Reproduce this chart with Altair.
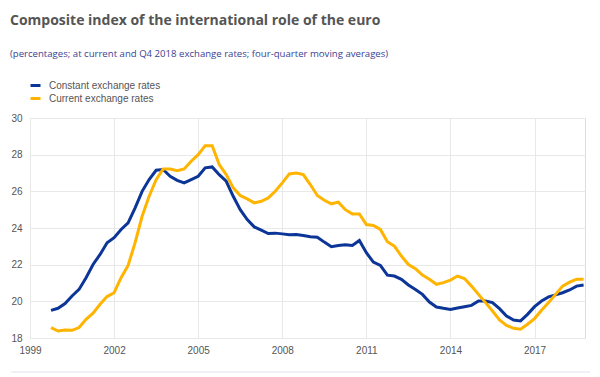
import altair as alt
import pandas as pd

# Quarterly observations, 1999 Q4 to 2018 Q4
quarters = [f"{1999 + (3 + i) // 4}Q{(3 + i) % 4 + 1}" for i in range(77)]

constant_rates = [
    19.51, 19.62, 19.88, 20.29, 20.65, 21.29, 22.01, 22.56, 23.20, 23.47,
    23.92, 24.28, 25.10, 26.00, 26.64, 27.15, 27.19, 26.82, 26.60, 26.46,
    26.64, 26.82, 27.28, 27.33, 26.91, 26.55, 25.73, 25.00, 24.46, 24.06,
    23.88, 23.70, 23.72, 23.68, 23.63, 23.65, 23.59, 23.52, 23.50, 23.23,
    22.98, 23.05, 23.09, 23.05, 23.32, 22.65, 22.14, 21.96, 21.43, 21.38,
    21.20, 20.89, 20.65, 20.38, 19.96, 19.69, 19.62, 19.56, 19.64, 19.71,
    19.78, 20.02, 20.02, 19.93, 19.60, 19.20, 18.98, 18.93, 19.29, 19.71,
    20.02, 20.24, 20.35, 20.47, 20.62, 20.83, 20.89,
]

current_rates = [
    18.57, 18.38, 18.44, 18.42, 18.57, 19.02, 19.35, 19.84, 20.26, 20.47,
    21.29, 21.96, 23.20, 24.64, 25.73, 26.64, 27.22, 27.22, 27.13, 27.22,
    27.64, 28.00, 28.49, 28.49, 27.46, 26.91, 26.19, 25.77, 25.59, 25.37,
    25.46, 25.64, 26.00, 26.46, 26.95, 27.00, 26.91, 26.37, 25.77, 25.51,
    25.32, 25.41, 25.00, 24.77, 24.77, 24.19, 24.14, 23.92, 23.25, 23.01,
    22.47, 22.01, 21.78, 21.43, 21.20, 20.93, 21.02, 21.16, 21.38, 21.24,
    20.83, 20.38, 19.93, 19.47, 18.98, 18.69, 18.53, 18.48, 18.75, 19.06,
    19.51, 19.93, 20.38, 20.83, 21.05, 21.20, 21.20,
]

series_names = ["Constant exchange rates", "Current exchange rates"]
series_colors = ["#0b3596", "#ffb400"]
x_ticks = [1999, 2002, 2005, 2008, 2011, 2014, 2017]
y_ticks = [18, 20, 22, 24, 26, 28, 30]


def q_to_year(q):
    y, n = q.split("Q")
    return int(y) + (int(n) - 1) * 0.25


rows = []
for name, vals in zip(series_names, [constant_rates, current_rates]):
    for q, v in zip(quarters, vals):
        rows.append({"year": q_to_year(q), "value": v, "series": name})
df = pd.DataFrame(rows)

label_font = "Liberation Sans"
grey = "#555555"

lines = alt.Chart(df).mark_line(strokeWidth=3, clip=True).encode(
    x=alt.X(
        "year:Q",
        scale=alt.Scale(domain=[1999, 2018.8], nice=False, zero=False),
        axis=alt.Axis(
            values=x_ticks, format="d", title=None, grid=True, gridColor="#e8e8e8",
            domain=False, ticks=False, labelFont=label_font, labelFontSize=10,
            labelColor=grey, labelPadding=7, labelFlush=False,
        ),
    ),
    y=alt.Y(
        "value:Q",
        scale=alt.Scale(domain=[18, 30], nice=False, zero=False),
        axis=alt.Axis(
            values=y_ticks, title=None, grid=True, gridColor="#e8e8e8",
            domain=False, ticks=False, labelFont=label_font, labelFontSize=10,
            labelColor=grey, labelPadding=8,
        ),
    ),
    color=alt.Color(
        "series:N",
        scale=alt.Scale(domain=series_names, range=series_colors),
        legend=alt.Legend(
            title=None, orient="none", legendX=-1, legendY=-39, direction="vertical",
            symbolType="stroke", symbolStrokeWidth=3, symbolSize=100,
            labelFont=label_font, labelFontSize=10, labelColor=grey,
            labelOffset=7, rowPadding=0, padding=0,
        ),
    ),
    order=alt.Order("year:Q"),
)

sep = alt.Chart(pd.DataFrame({"k": [0]})).mark_rule(color="#e4e4ec", strokeWidth=1).encode(
    x=alt.value(-19), x2=alt.value(560), y=alt.value(254)
)

chart = (
    alt.layer(lines, sep)
    .properties(
        width=555,
        height=220,
        autosize=alt.AutoSizeParams(type="none"),
        padding={"left": 30, "top": 118, "right": 15, "bottom": 39},
        title=alt.TitleParams(
            text="Composite index of the international role of the euro",
            subtitle="(percentages; at current and Q4 2018 exchange rates; four-quarter moving averages)",
            anchor="start", frame="group", orient="top",
            font="Open Sans", fontSize=14, fontWeight="bold", color="#555555",
            subtitleFont="Open Sans", subtitleFontSize=9.6, subtitleColor="#3a3f94",
            subtitlePadding=21, offset=20, dx=-20,
        ),
    )
    .configure_view(stroke=None)
    .configure(background="white")
)

chart.save("out.html", embed_options={"renderer": "svg", "actions": False})
